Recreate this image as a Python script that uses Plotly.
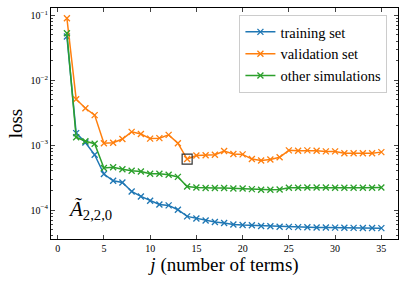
import plotly.graph_objects as go

j = list(range(1, 36))
training = [0.047, 0.00153, 0.0011, 0.00071, 0.000358, 0.000282, 0.000266, 0.000193, 0.000162, 0.000139,
            0.000122, 0.000118, 0.000101, 0.0000798, 0.000074, 0.000069, 0.0000653, 0.000063, 0.00006, 0.0000589,
            0.0000582, 0.0000568, 0.0000562, 0.0000553, 0.000055, 0.0000545, 0.0000542, 0.000054, 0.0000538, 0.0000536,
            0.0000534, 0.0000532, 0.000053, 0.0000528, 0.0000526]
validation = [0.09, 0.0051, 0.0037, 0.0029, 0.00107, 0.00109, 0.00124, 0.0016, 0.00148, 0.00126,
              0.00128, 0.00144, 0.00107, 0.00061, 0.00069, 0.0007, 0.00071, 0.00081, 0.00073, 0.00072,
              0.00061, 0.00058, 0.0006, 0.00065, 0.00083, 0.00082, 0.00083, 0.00082, 0.0008, 0.0008,
              0.00075, 0.00075, 0.00075, 0.00075, 0.00078]
other = [0.053, 0.00132, 0.00115, 0.00105, 0.000443, 0.000455, 0.000426, 0.000403, 0.000393, 0.000363,
         0.000363, 0.00035, 0.000324, 0.000231, 0.000223, 0.000219, 0.000219, 0.000219, 0.000215, 0.000215,
         0.00021, 0.000205, 0.000205, 0.000207, 0.000221, 0.000221, 0.000222, 0.000222, 0.000222, 0.000221,
         0.000221, 0.000221, 0.000221, 0.000221, 0.000222]
best_j = 14
names = ["training set", "validation set", "other simulations"]
colors = ["#1f77b4", "#ff7f0e", "#2ca02c"]
xticks = [0, 5, 10, 15, 20, 25, 30, 35]
yticks = [1e-4, 1e-3, 1e-2, 1e-1]
yticktext = ["10<sup>−4</sup>", "10<sup>−3</sup>", "10<sup>−2</sup>", "10<sup>−1</sup>"]

serif = "Liberation Serif"

fig = go.Figure()
for name, vals, c in zip(names, [training, validation, other], colors):
    fig.add_trace(go.Scatter(
        x=j, y=vals, name=name, mode="lines+markers",
        line=dict(color=c, width=1.5),
        marker=dict(symbol="x-thin", size=6, line=dict(color=c, width=1.3)),
    ))

fig.add_trace(go.Scatter(
    x=[best_j], y=[validation[best_j - 1]], mode="markers", showlegend=False,
    marker=dict(symbol="square-open", size=10, color="#333333", line=dict(width=1.2)),
))

minor_vals = []
for d in [1e-5, 1e-4, 1e-3, 1e-2]:
    for k in range(2, 10):
        minor_vals.append(k * d)

fig.add_annotation(x=0.9, y=-4.0, xref="x", yref="y", xanchor="left", yanchor="middle",
                   text="<i>Ã</i><sub>2,2,0</sub>", showarrow=False,
                   font=dict(family=serif, size=21, color="black"))

fig.update_layout(
    width=407, height=282,
    margin=dict(l=51, r=9, t=8, b=43, pad=0, autoexpand=False),
    paper_bgcolor="white", plot_bgcolor="white",
    font=dict(family=serif, color="black"),
    legend=dict(x=0.543, y=0.97, xanchor="left", yanchor="top",
                bgcolor="rgba(255,255,255,0.8)", bordercolor="#cccccc", borderwidth=1,
                font=dict(family=serif, size=14.5), tracegroupgap=0, itemwidth=30),
    xaxis=dict(range=[-0.72, 36.8], tickvals=xticks, ticks="inside", ticklen=4,
               showline=True, linecolor="black", linewidth=1, mirror="allticks",
               showgrid=False, zeroline=False, tickfont=dict(size=10), automargin=False,
               title=dict(text="<i>j</i> (number of terms)", font=dict(size=19), standoff=2)),
    yaxis=dict(type="log", range=[-4.446, -0.888], tickvals=yticks, ticktext=yticktext,
               ticks="inside", ticklen=4, automargin=False,
               showline=True, linecolor="black", linewidth=1, mirror="allticks",
               showgrid=False, zeroline=False, tickfont=dict(size=10),
               minor=dict(tickvals=minor_vals, ticks="inside", ticklen=2, showgrid=False),
               title=dict(text="loss", font=dict(size=19), standoff=2)),
)

fig.write_html("out.html", config={"displayModeBar": False},
               post_script="document.body.style.margin='0';document.body.style.padding='0';")
